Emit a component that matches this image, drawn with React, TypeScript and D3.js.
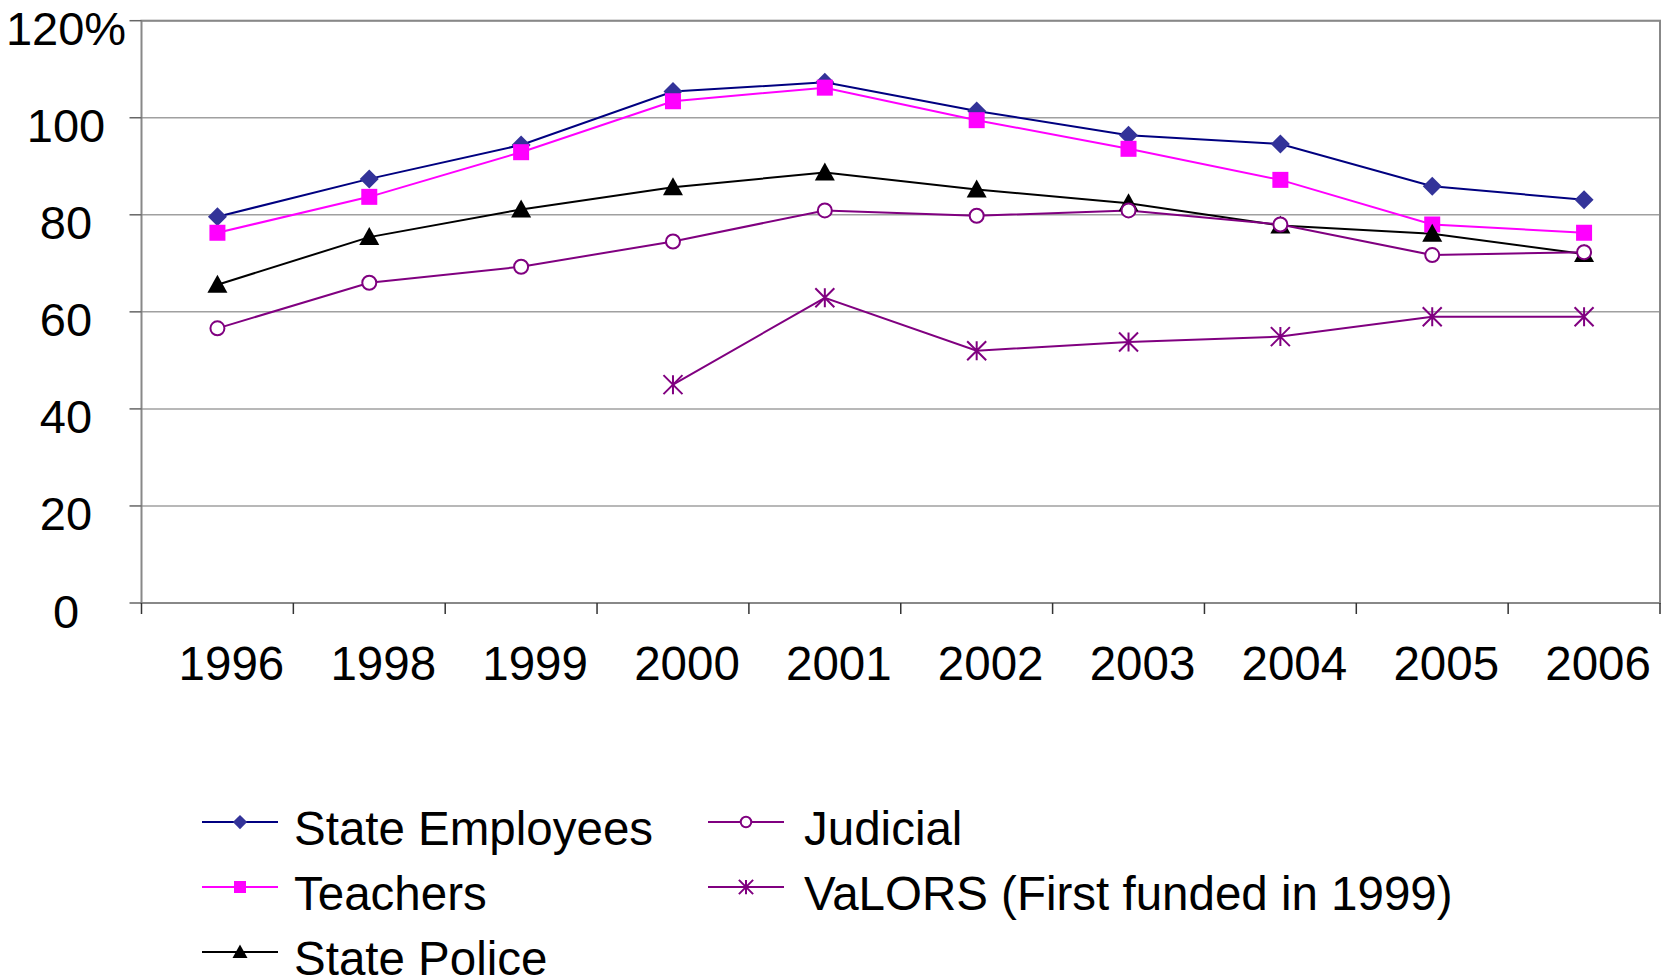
import React from 'react';
import * as d3 from 'd3';

const years = ['1996', '1998', '1999', '2000', '2001', '2002', '2003', '2004', '2005', '2006'];
const yTicks = [0, 20, 40, 60, 80, 100, 120];

const stateEmployees = [79.6, 87.4, 94.4, 105.4, 107.3, 101.4, 96.4, 94.6, 85.9, 83.1];
const teachers = [76.3, 83.7, 92.9, 103.4, 106.2, 99.5, 93.6, 87.2, 78.0, 76.3];
const statePolice = [65.6, 75.4, 81.1, 85.7, 88.7, 85.2, 82.4, 77.8, 76.1, 71.9];
const judicial = [56.6, 66.0, 69.3, 74.5, 80.9, 79.8, 80.9, 78.0, 71.7, 72.3];
const valors: (number | null)[] = [null, null, null, 45.0, 62.9, 52.0, 53.8, 54.9, 59.0, 59.0];

type Marker = 'diamond' | 'square' | 'triangle' | 'circle' | 'star';

interface Series {
  name: string;
  values: (number | null)[];
  line: string;
  fill: string;
  marker: Marker;
}

const series: Series[] = [
  { name: 'State Employees', values: stateEmployees, line: '#000080', fill: '#333399', marker: 'diamond' },
  { name: 'Teachers', values: teachers, line: '#ff00ff', fill: '#ff00ff', marker: 'square' },
  { name: 'State Police', values: statePolice, line: '#000000', fill: '#000000', marker: 'triangle' },
  { name: 'Judicial', values: judicial, line: '#800080', fill: '#800080', marker: 'circle' },
  { name: 'VaLORS (First funded in 1999)', values: valors, line: '#800080', fill: '#800080', marker: 'star' },
];

const W = 1664;
const H = 976;
const left = 141.5;
const right = 1660;
const top = 20.7;
const bottom = 603;
const font = 'Liberation Sans, Arial, sans-serif';

const MarkerShape: React.FC<{ kind: Marker; x: number; y: number; color: string; s?: number }> = ({
  kind,
  x,
  y,
  color,
  s = 1,
}) => {
  switch (kind) {
    case 'diamond': {
      const r = 9.5 * s;
      return <path d={`M${x},${y - r}L${x + r},${y}L${x},${y + r}L${x - r},${y}Z`} fill={color} />;
    }
    case 'square': {
      const r = 8 * s;
      return <rect x={x - r} y={y - r} width={2 * r} height={2 * r} fill={color} />;
    }
    case 'triangle': {
      const r = 10 * s;
      return <path d={`M${x},${y - r}L${x + r},${y + r * 0.8}L${x - r},${y + r * 0.8}Z`} fill={color} />;
    }
    case 'circle':
      return <circle cx={x} cy={y} r={7 * s} fill="white" stroke={color} strokeWidth={2} />;
    case 'star': {
      const r = 9.5 * s;
      return (
        <path
          d={`M${x - r},${y - r}L${x + r},${y + r}M${x + r},${y - r}L${x - r},${y + r}M${x},${y - r}L${x},${y + r}`}
          stroke={color}
          strokeWidth={2}
          fill="none"
        />
      );
    }
  }
};

const App: React.FC = () => {
  const x = d3.scaleBand<string>().domain(years).range([left, right]);
  const y = d3.scaleLinear().domain([0, 120]).range([bottom, top]);
  const cx = (yr: string) => (x(yr) as number) + x.bandwidth() / 2;

  const line = d3
    .line<number | null>()
    .defined(d => d != null)
    .x((_, i) => cx(years[i]))
    .y(d => y(d as number));

  const boundaries = years.map(yr => x(yr) as number).concat([right]);

  const legendRows = [
    { s: series[0], lx: 202, tx: 294, ly: 822 },
    { s: series[1], lx: 202, tx: 294, ly: 887 },
    { s: series[2], lx: 202, tx: 294, ly: 952 },
    { s: series[3], lx: 708, tx: 804, ly: 822 },
    { s: series[4], lx: 708, tx: 804, ly: 887 },
  ];

  return (
    <svg width={W} height={H} style={{ position: 'absolute', left: 0, top: 0 }} fontFamily={font}>
      <rect width={W} height={H} fill="white" />
      {/* grid */}
      {yTicks.map(t => (
        <line key={t} x1={left} x2={right} y1={y(t)} y2={y(t)} stroke="#a0a0a0" strokeWidth={1.5} />
      ))}
      <rect x={left} y={top} width={right - left} height={bottom - top} fill="none" stroke="#888" strokeWidth={2} />
      {/* y ticks */}
      {yTicks.map(t => (
        <g key={t}>
          <line x1={left - 12} x2={left} y1={y(t)} y2={y(t)} stroke="#666" strokeWidth={1.5} />
          <text x={66} y={y(t) + 8} fontSize={47} textAnchor="middle" dominantBaseline="central">
            {t === 120 ? '120%' : t}
          </text>
        </g>
      ))}
      {/* x ticks */}
      {boundaries.map((b, i) => (
        <line key={i} x1={b} x2={b} y1={bottom} y2={bottom + 11} stroke="#333" strokeWidth={1.5} />
      ))}
      {years.map(yr => (
        <text key={yr} x={cx(yr) + 14} y={680} fontSize={47.5} textAnchor="middle">
          {yr}
        </text>
      ))}
      {/* series */}
      {series.map(s => (
        <path key={s.name} d={line(s.values) || ''} fill="none" stroke={s.line} strokeWidth={2} />
      ))}
      {series.map(s =>
        s.values.map((v, i) =>
          v == null ? null : (
            <MarkerShape key={s.name + i} kind={s.marker} x={cx(years[i])} y={y(v)} color={s.fill} />
          )
        )
      )}
      {/* legend */}
      {legendRows.map(({ s, lx, tx, ly }) => (
        <g key={s.name}>
          <line x1={lx} x2={lx + 76} y1={ly} y2={ly} stroke={s.line} strokeWidth={2} />
          <MarkerShape kind={s.marker} x={lx + 38} y={ly} color={s.fill} s={0.75} />
          <text x={tx} y={ly + 23} fontSize={47.5}>
            {s.name}
          </text>
        </g>
      ))}
    </svg>
  );
};

export default App;
